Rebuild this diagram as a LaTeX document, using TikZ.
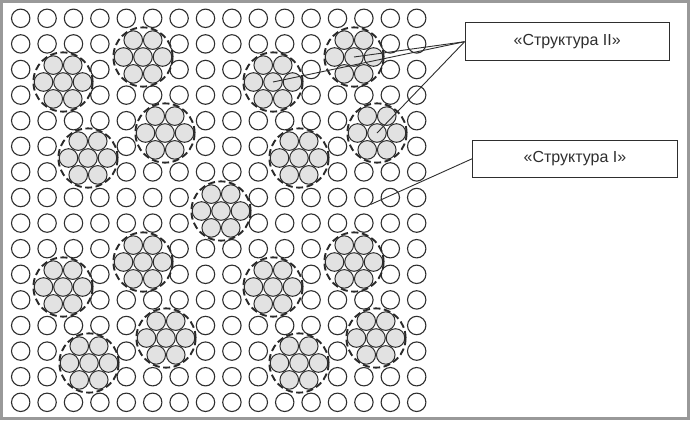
\documentclass[tikz,border=0pt]{standalone}
\usepackage{fontspec}
\setmainfont{Liberation Sans}
\definecolor{lineg}{HTML}{2E2E2E}
\definecolor{fillg}{HTML}{E2E2E2}
\definecolor{frameg}{HTML}{999999}
\tikzset{
  gridc/.style={circle,draw=lineg,line width=1.1bp,minimum size=18.4bp,inner sep=0pt},
  innerc/.style={draw=lineg,fill=fillg,line width=1bp},
  outerc/.style={draw=lineg!90!black,line width=1.9bp,dash pattern=on 7bp off 3.5bp},
  labelbox/.style={draw=lineg,line width=0.9bp,inner sep=0pt,font=\fontsize{16bp}{19bp}\selectfont,text=lineg},
  leader/.style={draw=lineg,line width=0.9bp}
}
\begin{document}
\begin{tikzpicture}[x=1bp,y=-1bp]
\useasboundingbox (0,0) rectangle (690,420);
\fill[white] (0,0) rectangle (690,420);
\draw[frameg,line width=3bp] (1.5,1.5) rectangle (688.5,418.5);
% cells replaced by clusters
\foreach \c/\r in {1/2,4/1,9/2,12/1,5/4,2/5,13/4,10/5,7/7,4/9,12/9,1/10,9/10,5/12,13/12,2/13,10/13}{
  \pgfmathtruncatemacro\cc{\c+1}
  \pgfmathtruncatemacro\rr{\r+1}
  \expandafter\xdef\csname sk\c-\r\endcsname{1}
  \expandafter\xdef\csname sk\cc-\r\endcsname{1}
  \expandafter\xdef\csname sk\c-\rr\endcsname{1}
  \expandafter\xdef\csname sk\cc-\rr\endcsname{1}
}
% regular grid (Structure I)
\foreach \i in {0,...,15}{
  \foreach \j in {0,...,15}{
    \ifcsname sk\i-\j\endcsname\else
      \node[gridc] (g-\i-\j) at ({20.7+26.4*\i},{18.3+25.6*\j}) {};
    \fi
  }
}
% clusters (Structure II)
\foreach \k/\x/\y in {1/63/82,2/143/57,3/273/82,4/354/57,5/165/133,6/88/158,7/377/133,8/299/158,9/221/211,10/143/262,11/354/262,12/63/287,13/273/287,14/166/338,15/376/338,16/89/363,17/299/363}{
  \coordinate (cl\k) at (\x,\y);
  \begin{scope}[shift={(cl\k)}]
    \foreach \dx/\dy in {-19.5/0,0/0,19.5/0,-9.75/-16.9,9.75/-16.9,-9.75/16.9,9.75/16.9}{
      \path[innerc] (\dx,\dy) circle[radius=9.3bp];
    }
    \path[outerc] (0,0) circle[radius=29.6bp];
  \end{scope}
}
% labels
\node[labelbox,minimum width=204.3bp,minimum height=38bp] (s2) at (567.2,41.7) {«Структура II»};
\node[labelbox,minimum width=204.6bp,minimum height=37.3bp] (s1) at (575,158.7) {«Структура I»};
\draw[leader] (s2.west) -- (cl3);
\draw[leader] (s2.west) -- (cl4);
\draw[leader] (s2.west) -- (cl7);
\draw[leader] (s1.west) -- (g-13-7.south east);
\end{tikzpicture}
\end{document}
